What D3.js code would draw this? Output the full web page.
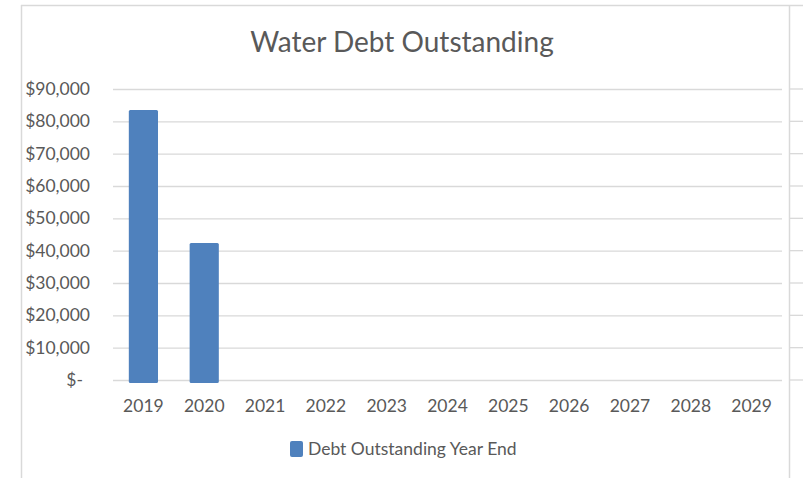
<!DOCTYPE html>
<html>
<head>
<meta charset="utf-8">
<script src="https://cdn.jsdelivr.net/npm/d3@7"></script>
<style>
  body { margin: 0; background: #fff; }
  #canvas { width: 803px; height: 478px; }
  text { font-family: Lato, "Open Sans", sans-serif; fill: #595959; }
  .axis path { display: none; }
  .axis-y .tick line { stroke: #d9d9d9; stroke-width: 1.3; }
  .axis-x .tick line { display: none; }
</style>
</head>
<body>
<div id="canvas" class="canvas"></div>
<script>
var years = ['2019','2020','2021','2022','2023','2024','2025','2026','2027','2028','2029'];
var debt = [83500, 42400, 0, 0, 0, 0, 0, 0, 0, 0, 0];
var yTicks = [0, 10000, 20000, 30000, 40000, 50000, 60000, 70000, 80000, 90000];
var seriesName = 'Debt Outstanding Year End';
var title = 'Water Debt Outstanding';

var outerWidth = 803, outerHeight = 478;
var m = {t:89, r:21, b:98, l:113};
var w = outerWidth - m.l - m.r,
    h = outerHeight - m.t - m.b;

var svg = d3.select('.canvas')
    .append('svg')
    .attr('width', outerWidth)
    .attr('height', outerHeight);

// chart frame
svg.append('line').attr('x1',21).attr('x2',803).attr('y1',5.5).attr('y2',5.5)
    .style('stroke','#d9d9d9').style('stroke-width',1.5);
svg.append('line').attr('x1',21.5).attr('x2',21.5).attr('y1',5).attr('y2',478)
    .style('stroke','#d9d9d9').style('stroke-width',1.5);
svg.append('line').attr('x1',789.5).attr('x2',789.5).attr('y1',5).attr('y2',478)
    .style('stroke','#d9d9d9').style('stroke-width',1.5);

var plot = svg.append('g')
    .attr('transform','translate(' + m.l + ',' + m.t + ')');

var scaleY = d3.scaleLinear()
    .domain([0, 90000])
    .range([h, 0]);

var scaleX = d3.scaleBand()
    .domain(years)
    .range([0, w])
    .paddingInner(0.52)
    .paddingOuter(0.26);

var fmt = d3.format(',');
var axisY = d3.axisLeft()
    .scale(scaleY)
    .tickValues(yTicks)
    .tickSize(-w)
    .tickPadding(23)
    .tickFormat(function(d){ return d === 0 ? '$-' : '$' + fmt(d); });

var gy = plot.append('g').attr('class','axis axis-y').call(axisY);
gy.selectAll('text').style('font-size','17.5px').style('fill','#595959')
    .attr('dx', function(d){ return d === 0 ? -7 : 0; });

// gridline stubs past the frame
plot.selectAll('.stub')
    .data(yTicks)
    .enter()
    .append('line')
    .attr('class','stub')
    .attr('x1', 790 - m.l).attr('x2', 803 - m.l)
    .attr('y1', function(d){ return scaleY(d); })
    .attr('y2', function(d){ return scaleY(d); })
    .style('stroke','#d9d9d9').style('stroke-width',1.3);

plot.selectAll('rect.bar')
    .data(years.map(function(y,i){ return {year:y, v:debt[i]}; }).filter(function(d){ return d.v > 0; }))
    .enter()
    .append('rect')
    .attr('class','bar')
    .attr('x', function(d){ return scaleX(d.year); })
    .attr('width', scaleX.bandwidth())
    .attr('y', function(d){ return scaleY(d.v); })
    .attr('height', function(d){ return h - scaleY(d.v) + 3; })
    .attr('rx', 1.5)
    .style('fill','#4f81bd');

var axisX = d3.axisBottom()
    .scale(scaleX)
    .tickSize(0)
    .tickPadding(20);

var gx = plot.append('g').attr('class','axis axis-x')
    .attr('transform','translate(0,' + h + ')')
    .call(axisX);
gx.selectAll('text').style('font-size','17.5px').style('fill','#595959');

svg.append('text')
    .attr('x', 402)
    .attr('y', 52)
    .attr('text-anchor','middle')
    .style('font-size','28px')
    .text(title);

var legend = svg.append('g').attr('transform','translate(290,441)');
legend.append('rect')
    .attr('width', 13).attr('height', 16).attr('rx', 2)
    .style('fill','#4f81bd');
legend.append('text')
    .attr('x', 18).attr('y', 14)
    .style('font-size','17.5px')
    .text(seriesName);
</script>
</body>
</html>
